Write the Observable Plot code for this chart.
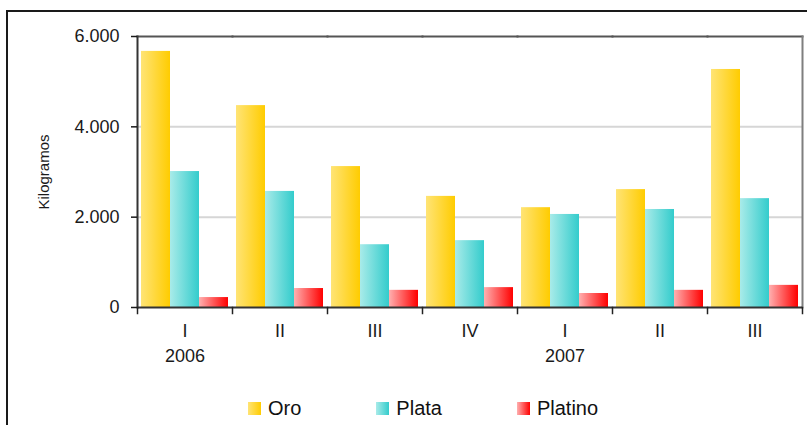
<!DOCTYPE html>
<html>
<head>
<meta charset="utf-8">
<script src="https://cdn.jsdelivr.net/npm/d3@7"></script>
<script src="https://cdn.jsdelivr.net/npm/@observablehq/plot@0.6"></script>
<style>
  body { margin: 0; background: #fff; font-family: "Liberation Sans", Arial, sans-serif; }
  #wrap { position: relative; width: 807px; height: 425px; overflow: hidden; background: #fff; }
  #border { position: absolute; left: 6px; top: 10px; width: 900px; height: 500px;
            border-left: 2px solid #1a1a1a; border-top: 2px solid #1a1a1a; }
  #chart { position: absolute; left: 0; top: 0; }
  #legend { position: absolute; top: 397px; left: 248px; display: flex; align-items: center;
            font-size: 20px; line-height: 23px; color: #111; }
  .item { display: flex; align-items: center; margin-right: 75px; }
  .sw { width: 13px; height: 13px; margin-right: 7px; }
</style>
</head>
<body>
<div id="wrap">
  <div id="border"></div>
  <div id="chart"></div>
  <div id="legend"></div>
</div>
<script>
// ---- data ----
const years    = ["2006", "2006", "2006", "2006", "2007", "2007", "2007"];
const quarters = ["I", "II", "III", "IV", "I", "II", "III"];
const series   = ["Oro", "Plata", "Platino"];
const oro      = [5670, 4470, 3120, 2460, 2210, 2610, 5270];
const plata    = [3010, 2570, 1390, 1480, 2060, 2170, 2410];
const platino  = [220, 420, 380, 440, 310, 380, 490];
const yTicks   = [0, 2000, 4000, 6000];
const yLabel   = "Kilogramos";

// ---- styles ----
const gradients = {
  Oro:     ["#FFE476", "#FFCC00"],
  Plata:   ["#A9EBE9", "#33CCCC"],
  Platino: ["#FFB0B0", "#FF0000"]
};

const periodKeys = quarters.map((q, i) => years[i] + " " + q);
const firstOfYear = periodKeys.map((k, i) => i === 0 || years[i] !== years[i - 1]);
const valuesBySeries = {Oro: oro, Plata: plata, Platino: platino};
const rows = [];
periodKeys.forEach((p, i) => {
  series.forEach(s => rows.push({period: p, series: s, value: valuesBySeries[s][i]}));
});

const W = 807, H = 375, mL = 134, mT = 36, mR = 3, mB = 68;
const innerH = H - mT - mB;
const fmt = d3.formatLocale({decimal: ",", thousands: ".", grouping: [3], currency: ["", ""]}).format(",");

const plot = Plot.plot({
  width: W, height: H,
  marginLeft: mL, marginTop: mT, marginRight: mR, marginBottom: mB,
  style: {fontFamily: "Liberation Sans, Arial, sans-serif", fontSize: "18px", color: "#1a1a1a", background: "transparent", overflow: "visible"},
  fx: {domain: periodKeys, paddingInner: 0, paddingOuter: 0, label: null},
  x: {domain: series, paddingInner: 0, paddingOuter: 0.1, axis: null},
  y: {domain: [0, 6000]},
  color: {domain: series, range: series.map(s => `url(#grad-${s})`)},
  marks: [
    Plot.ruleY([2000, 4000], {stroke: "#d6d6d6", strokeWidth: 2}),
    Plot.barY(rows, {fx: "period", x: "series", y: "value", fill: "series"}),
    Plot.frame({anchor: "top", stroke: "#555", strokeWidth: 2, strokeOpacity: 1}),
    Plot.frame({anchor: "right", facetAnchor: "right", stroke: "#7f7f7f", strokeWidth: 2, strokeOpacity: 1}),
    Plot.ruleY([0], {stroke: "#333", strokeWidth: 2}),
    Plot.frame({anchor: "left", facetAnchor: "left", stroke: "#333", strokeWidth: 2, strokeOpacity: 1}),
    Plot.frame({anchor: "left", insetTop: innerH, insetBottom: -6, stroke: "#222", strokeWidth: 1.5, strokeOpacity: 1}),
    Plot.frame({anchor: "right", facetAnchor: "right", insetTop: innerH, insetBottom: -6, stroke: "#222", strokeWidth: 1.5, strokeOpacity: 1}),
    Plot.axisY({ticks: yTicks, tickFormat: fmt, tickSize: 6, tickPadding: 12, label: null, fontSize: 18, strokeWidth: 1.5}),
    Plot.text([yLabel], {text: d => d, frameAnchor: "left", textAnchor: "middle", facetAnchor: "left", rotate: -90, dx: -93, fontSize: 15, fill: "#1a1a1a"}),
    Plot.axisFx({
      anchor: "bottom", tickSize: 0, tickPadding: 12, label: null, lineHeight: 1.39, fontSize: 18,
      tickFormat: k => {
        const i = periodKeys.indexOf(k);
        return firstOfYear[i] ? quarters[i] + "\n" + years[i] : quarters[i];
      }
    })
  ]
});

const svgEl = plot.tagName.toLowerCase() === "svg" ? plot : plot.querySelector("svg");
const defs = d3.select(svgEl).insert("defs", ":first-child");
series.forEach(s => {
  const lg = defs.append("linearGradient").attr("id", `grad-${s}`)
    .attr("x1", "0").attr("x2", "1").attr("y1", "0").attr("y2", "0");
  lg.append("stop").attr("offset", "0%").attr("stop-color", gradients[s][0]);
  lg.append("stop").attr("offset", "100%").attr("stop-color", gradients[s][1]);
});
document.getElementById("chart").appendChild(plot);

const legend = document.getElementById("legend");
series.forEach(s => {
  const item = document.createElement("div");
  item.className = "item";
  const sw = document.createElement("div");
  sw.className = "sw";
  sw.style.background = `linear-gradient(to right, ${gradients[s][0]}, ${gradients[s][1]})`;
  const t = document.createElement("span");
  t.textContent = s;
  item.appendChild(sw);
  item.appendChild(t);
  legend.appendChild(item);
});
</script>
</body>
</html>
